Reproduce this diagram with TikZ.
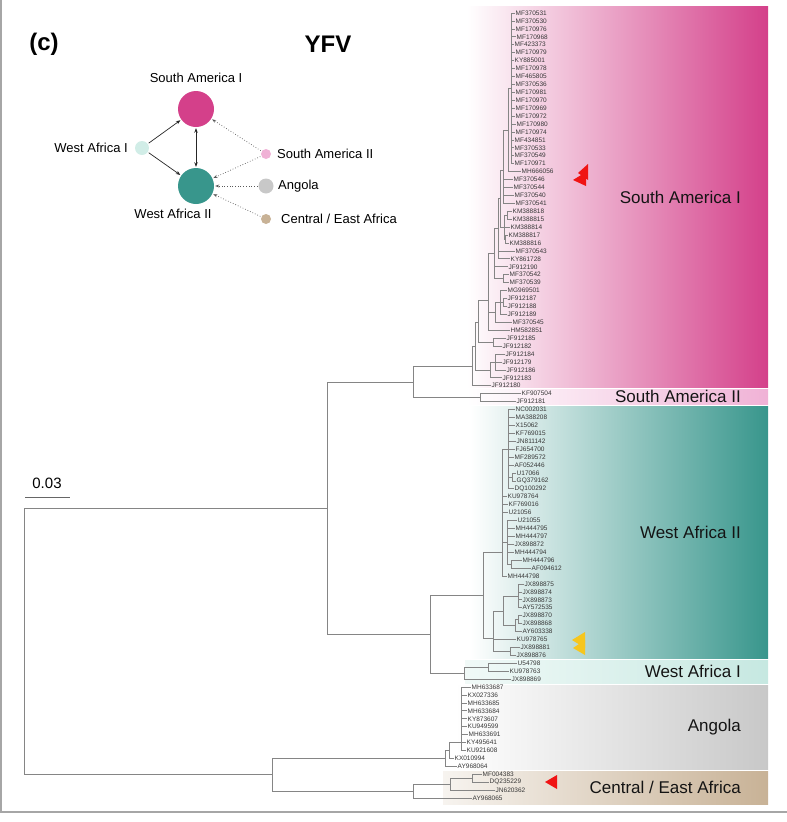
\documentclass[tikz,border=0pt]{standalone}
\usepackage{fontspec}
\setmainfont{Liberation Sans}
\usetikzlibrary{arrows.meta}
\definecolor{saIcol}{RGB}{212,64,138}
\definecolor{saIIcol}{RGB}{240,178,214}
\definecolor{waIIcol}{RGB}{56,150,140}
\definecolor{waIcol}{RGB}{198,232,225}
\definecolor{angcol}{RGB}{200,200,200}
\definecolor{ceacol}{RGB}{200,178,150}
\definecolor{flagred}{RGB}{240,20,20}
\definecolor{flagyel}{RGB}{246,198,30}
\tikzset{
  branch/.style={draw=black!48,line width=0.7pt},
  leaflbl/.style={anchor=west,inner sep=1pt,text=black!78,font=\fontsize{6.5}{7}\selectfont},
  cladelbl/.style={anchor=east,inner sep=0pt,text=black!92,font=\fontsize{17}{17}\selectfont},
  netlbl/.style={inner sep=0pt,font=\fontsize{13}{13}\selectfont},
  netdot/.style={circle,inner sep=0pt},
  netarr/.style={-{Stealth[length=4.5pt,width=3.5pt]},line width=0.7pt,black!85,shorten >=1pt,shorten <=1pt},
  netdotarr/.style={-{Stealth[length=4pt,width=3pt]},dotted,line width=0.7pt,black!65,shorten >=1pt,shorten <=1pt},
}
\begin{document}
\begin{tikzpicture}[x=1pt,y=-1pt]
  \useasboundingbox (0,0) rectangle (787,822);
  % frame
  \draw[black!35,line width=1.5pt] (1,0) -- (1,812) -- (787,812);
  % clade boxes
  \shade[left color=white,right color=saIcol] (467,6) rectangle (768,387);
  \shade[left color=white,right color=saIIcol] (467,389) rectangle (768,404);
  \shade[left color=white,right color=waIIcol] (470,406) rectangle (768,658);
  \shade[left color=waIcol!25,right color=waIcol] (465,660) rectangle (768,683);
  \shade[left color=white,right color=angcol] (455,685) rectangle (768,769);
  \shade[left color=ceacol!15,right color=ceacol] (443,771) rectangle (768,804);
  \node[cladelbl] (cSAI) at (741,197) {South America I};
  \node[cladelbl] (cSAII) at (741,396) {South America II};
  \node[cladelbl] (cWAII) at (741,532) {West Africa II};
  \node[cladelbl] (cWAI) at (741,671) {West Africa I};
  \node[cladelbl] (cANG) at (741,727) {Angola};
  \node[cladelbl] (cCEA) at (741,787) {Central / East Africa};
  % leaves
  \foreach \i/\nm/\tx in {1/MF370531/514.5,2/MF370530/514.5,3/MF170976/514.5,4/MF170968/515.5,
    5/MF423373/513.5,6/MF170979/514.5,7/KY885001/513.5,8/MF170978/514.5,9/MF465805/514.5,
    10/MF370536/514.5,11/MF170981/514.5,12/MF170970/514.5,13/MF170969/514.5,14/MF170972/514.5,
    15/MF170980/515.5,16/MF170974/514.5,17/MF434851/513.5,18/MF370533/513.5,19/MF370549/513.5,
    20/MF170971/513.5,21/MH666056/520.5,22/MF370546/512.5,23/MF370544/512.5,24/MF370540/513.5,
    25/MF370541/514.5,26/KM388818/511.5,27/KM388815/511.5,28/KM388814/509.5,29/KM388817/507.5,
    30/KM388816/508.5,31/MF370543/514.5,32/KY861728/509.5,33/JF912190/507.5,34/MF370542/508.5,
    35/MF370539/508.5,36/MG969501/506.5,37/JF912187/506.5,38/JF912188/506.5,39/JF912189/506.5,
    40/MF370545/511.5,41/HM582851/509.5,42/JF912185/505.5,43/JF912182/501.5,44/JF912184/504.5,
    45/JF912179/501.5,46/JF912186/505.5,47/JF912183/501.5,48/JF912180/490.5,49/KF907504/520.5,
    50/JF912181/515.5,51/NC002031/514.5,52/MA388208/514.5,53/X15062/514.5,54/KF769015/514.5,
    55/JN811142/515.5,56/FJ654700/514.5,57/MF289572/513.5,58/AF052446/513.5,59/U17066/515.5,
    60/GQ379162/515.5,61/DQ100292/513.5,62/KU978764/506.5,63/KF769016/507.5,64/U21056/507.5,
    65/U21055/516.5,66/MH444795/514.5,67/MH444797/514.5,68/JX898872/513.5,69/MH444794/513.5,
    70/MH444796/521.5,71/AF094612/530.5,72/MH444798/506.5,73/JX898875/523.5,74/JX898874/521.5,
    75/JX898873/521.5,76/AY572535/521.5,77/JX898870/521.5,78/JX898868/521.5,79/AY603338/521.5,
    80/KU978765/515.5,81/JX898881/519.5,82/JX898876/515.5,83/U54798/516.5,84/KU978763/508.5,
    85/JX898869/510.5,86/MH633687/470.5,87/KX027336/466.5,88/MH633685/466.5,89/MH633684/466.5,
    90/KY873607/466.5,91/KU949599/466.5,92/MH633691/467.5,93/KY495641/465.5,94/KU921608/465.5,
    95/KX010994/453.5,96/AY968064/456.5,97/MF004383/481.5,98/DQ235229/488.5,99/JN620362/494.5,
    100/AY968065/471.5}{
    \coordinate (L\i) at (\tx,{13+(\i-1)*7.93});
    \node[leaflbl] (t\i) at (L\i) {\nm};
  }
  % internal nodes
  \foreach \n/\x/\y in {R/24/641,A/327/508,B/272/774,SA/413/382,SAI/472/366,SAII/480/397.6,
    S1/475/346,S2/478/322,S7/488/300,S8/493/342,S9/490/370,S9a/495/362,S3/495/312,
    G36/500/302,G36b/503/302.5,T1/494/253,T2/498/228,T3/503/278.7,T4/500/198,
    U1/508/130,U1a/511/88.4,U2/503/170,U3/504/227,U3a/507/215,U3b/505/239,
    WA/430/634,WAI/464/673,WAIa/488/667.3,WAII/483/595,WAIIa/502/552,G1/508/449,
    G1b/512/476.9,G2/507/542,G2b/511/564.2,WAIIc/493/638,WAIId/503/611,WAIIe/510/651.4,
    G3/518/596,G4/515/625.6,G4b/518/619.7,ANG/445/758,ANGa/449/750,ANGb/461/742,
    CEA/413/791,CEAa/450/784,CEAb/472/778.3}
    \coordinate (\n) at (\x,\y);
  % branches
  \foreach \p/\c in {R/A,R/B,A/SA,A/WA,SA/SAI,SA/SAII,SAII/L49,SAII/L50,SAI/S1,SAI/L48,
    S1/S2,S1/S9,S2/S7,S2/S8,S8/L42,S8/L43,S9/S9a,S9/L47,S9a/L44,S9a/L45,S9a/L46,
    S7/T1,S7/S3,S7/L41,S3/G36,S3/L40,G36/L36,G36/G36b,G36/L39,G36b/L37,G36b/L38,
    T1/T2,T1/L33,T1/T3,T3/L34,T3/L35,T2/T4,T2/L31,T2/L32,T4/U2,T4/U3,
    U3/U3a,U3/L28,U3/U3b,U3a/L26,U3a/L27,U3b/L29,U3b/L30,
    U2/U1,U2/L22,U2/L23,U2/L24,U2/L25,U1/U1a,U1/L21,
    WA/WAII,WA/WAI,WAI/WAIa,WAI/L85,WAIa/L83,WAIa/L84,WAII/WAIIa,WAII/WAIIc,
    WAIIa/G1,WAIIa/L62,WAIIa/L63,WAIIa/L64,WAIIa/G2,WAIIa/L72,G1/G1b,G1/L61,G1b/L59,G1b/L60,
    G2/G2b,G2b/L70,G2b/L71,WAIIc/WAIId,WAIIc/L80,WAIIc/WAIIe,WAIIe/L81,WAIIe/L82,
    WAIId/G3,WAIId/G4,G4/G4b,G4/L79,G4b/L77,G4b/L78,
    B/ANG,B/CEA,ANG/ANGa,ANG/L96,ANGa/ANGb,ANGa/L95,CEA/CEAa,CEA/L100,CEAa/CEAb,CEAa/L99,
    CEAb/L97,CEAb/L98}
    \draw[branch] (\p) |- (\c);
  \foreach \c in {1,...,20} \draw[branch] (U1a) |- (L\c);
  \foreach \c in {51,...,58} \draw[branch] (G1) |- (L\c);
  \foreach \c in {65,...,69} \draw[branch] (G2) |- (L\c);
  \foreach \c in {73,...,76} \draw[branch] (G3) |- (L\c);
  \foreach \c in {86,...,94} \draw[branch] (ANGb) |- (L\c);
  % flags
  \fill[flagred] (578,173) -- (588,164) -- (588,180) -- cycle;
  \fill[flagred] (573,180) -- (586,172) -- (586,186) -- cycle;
  \fill[flagyel] (572,640) -- (585,632) -- (585,648) -- cycle;
  \fill[flagyel] (573,648) -- (585,640) -- (585,655) -- cycle;
  \fill[flagred] (545,782) -- (557,775) -- (557,789) -- cycle;
  % scale bar
  \coordinate (sb1) at (25,497);
  \coordinate (sb2) at (70,497);
  \draw[black!60,line width=0.7pt] (sb1) -- (sb2);
  \node[inner sep=0pt,font=\fontsize{15}{15}\selectfont] (sblbl) at (47,483) {0.03};
  % title
  \node[inner sep=0pt,font=\bfseries\fontsize{24}{24}\selectfont] (panel) at (44,44) {(c)};
  \node[inner sep=0pt,font=\bfseries\fontsize{24}{24}\selectfont] (virus) at (328,44) {YFV};
  % migration network
  \node[netdot,fill=saIcol,minimum size=36pt] (nSAI) at (196,109) {};
  \node[netdot,fill=waIIcol,minimum size=36pt] (nWAII) at (196,186) {};
  \node[netdot,fill=waIcol!80,minimum size=14pt] (nWAI) at (142,148) {};
  \node[netdot,fill=saIIcol,minimum size=10pt] (nSAII) at (266,154) {};
  \node[netdot,fill=angcol,minimum size=15pt] (nANG) at (266,186) {};
  \node[netdot,fill=ceacol,minimum size=10pt] (nCEA) at (266,219) {};
  \node[netlbl] (lSAI) at (196,78) {South America I};
  \node[netlbl] (lWAII) at (173,214) {West Africa II};
  \node[netlbl,anchor=east] (lWAI) at (128,148) {West Africa I};
  \node[netlbl,anchor=west] (lSAII) at (277,154) {South America II};
  \node[netlbl,anchor=west] (lANG) at (278,186) {Angola};
  \node[netlbl,anchor=west] (lCEA) at (281,219) {Central / East Africa};
  \draw[netarr] (nWAI) -- (nSAI);
  \draw[netarr] (nWAI) -- (nWAII);
  \draw[netarr,{Stealth[length=4.5pt,width=3.5pt]}-{Stealth[length=4.5pt,width=3.5pt]}] (nSAI) -- (nWAII);
  \draw[netdotarr] (nSAII) -- (nSAI);
  \draw[netdotarr] (nSAII) -- (nWAII);
  \draw[netdotarr] (nANG) -- (nWAII);
  \draw[netdotarr] (nCEA) -- (nWAII);
\end{tikzpicture}
\end{document}
